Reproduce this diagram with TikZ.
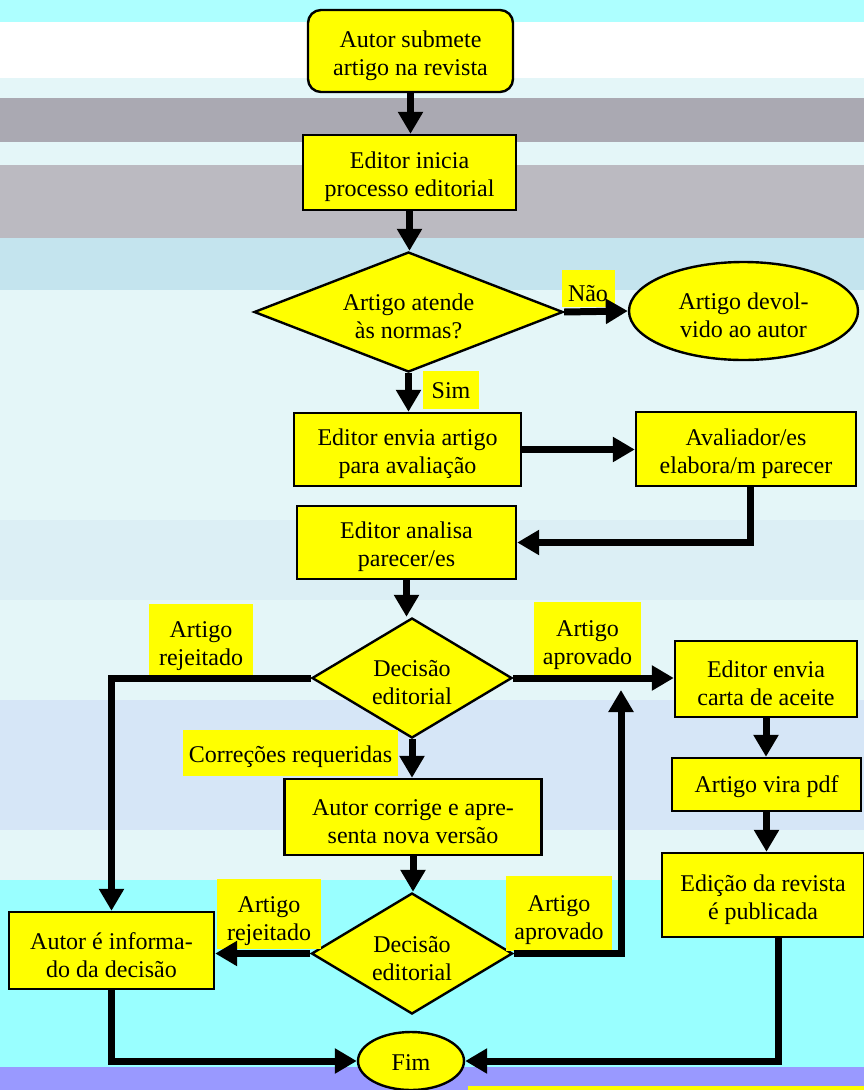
\documentclass[tikz,border=0pt]{standalone}
\usepackage{fontspec}
\setmainfont{Liberation Serif}
\usetikzlibrary{arrows.meta,shapes.geometric}
\definecolor{boxyellow}{HTML}{FFFF00}
\definecolor{bgcyan}{HTML}{99FFFF}
\definecolor{bglav}{HTML}{9999FF}
\definecolor{bgpale}{HTML}{E4F6F8}
\definecolor{bggray}{HTML}{8E8C98}
\definecolor{bgsoft}{HTML}{C4E4EE}
\tikzset{
  base/.style={draw=black, line width=2.4pt, fill=boxyellow, align=center,
    font=\fontsize{24}{28}\selectfont, inner sep=0pt, text height=54pt},
  box/.style={base, rectangle},
  rbox/.style={base, rectangle, rounded corners=13pt},
  diam/.style={base, diamond},
  oval/.style={base, ellipse},
  lab/.style={fill=boxyellow, draw=none, align=center,
    font=\fontsize{24}{28}\selectfont, inner sep=0pt, text height=58pt},
  conn/.style={line width=7pt, -{Triangle[length=22pt,width=24pt]}}
}
\begin{document}
\begin{tikzpicture}[x=1pt,y=-1pt]
\useasboundingbox (0,0) rectangle (864,1090);
% background (approximation of the photo)
\fill[bgpale] (0,0) rectangle (864,1090);
\fill[bgcyan!80!white] (0,0) rectangle (864,22);
\fill[white] (0,22) rectangle (864,78);
\fill[bggray!75!white] (0,98) rectangle (864,142);
\fill[bggray!60!white] (0,165) rectangle (864,238);
\fill[bgsoft] (0,238) rectangle (864,290);
\fill[bgsoft!60!white] (0,520) rectangle (864,600);
\fill[bgsoft!80!bglav!60!white] (0,700) rectangle (864,830);
\fill[bgcyan] (0,880) rectangle (864,1067);
\fill[bglav] (0,1067) rectangle (864,1090);
\fill[boxyellow] (468,1086) rectangle (864,1090);

% nodes
\node[rbox, minimum width=205pt, minimum height=82pt] (n1) at (410.5,51) {Autor submete\\artigo na revista};
\node[box, minimum width=213pt, minimum height=75pt] (n2) at (409.5,172.5) {Editor inicia\\processo editorial};
\node[diam, aspect=2.575, minimum width=309pt, minimum height=120pt] (d0) at (408.5,312) {Artigo atende\\às normas?};
\node[oval, minimum width=229pt, minimum height=98pt] (n4) at (743.5,311) {Artigo devol-\\vido ao autor};
\node[box, minimum width=227pt, minimum height=73pt] (n5) at (407.5,449.5) {Editor envia artigo\\para avaliação};
\node[box, minimum width=220pt, minimum height=74pt] (n6) at (746,449) {Avaliador/es\\elabora/m parecer};
\node[box, minimum width=219pt, minimum height=73pt] (n7) at (406.5,542.5) {Editor analisa\\parecer/es};
\node[diam, aspect=1.67, minimum width=200pt, minimum height=120pt] (d1) at (412,678) {Decisão\\editorial};
\node[box, minimum width=182pt, minimum height=76pt] (n9) at (766,679) {Editor envia\\carta de aceite};
\node[box, minimum width=189pt, minimum height=53pt, text height=20.5pt] (n10) at (766.5,784.5) {Artigo vira pdf};
\node[box, minimum width=202pt, minimum height=84pt] (n11) at (763,895) {Edição da revista\\é publicada};
\node[box, minimum width=257pt, minimum height=76pt] (n12) at (413,817) {Autor corrige e apre-\\senta nova versão};
\node[diam, aspect=1.66, minimum width=201pt, minimum height=121pt] (d2) at (412,953.5) {Decisão\\editorial};
\node[box, minimum width=205pt, minimum height=77pt] (n14) at (111.5,950.5) {Autor é informa-\\do da decisão};
\node[oval, minimum width=106pt, minimum height=58pt, text height=18.5pt] (fim) at (411,1061) {Fim};

% labels
\node[lab, minimum width=53pt, minimum height=37pt, text height=28pt] (lnao) at (588,288) {Não};
\node[lab, minimum width=56pt, minimum height=38pt, text height=18pt] (lsim) at (451,390) {Sim};
\node[lab, minimum width=104pt, minimum height=71pt] (lrej1) at (201,639.5) {Artigo\\rejeitado};
\node[lab, minimum width=107pt, minimum height=73pt] (lapr1) at (587.5,638.5) {Artigo\\aprovado};
\node[lab, minimum width=215pt, minimum height=46pt, text height=24pt] (lcor) at (290.5,753) {Correções requeridas};
\node[lab, minimum width=104pt, minimum height=70pt] (lrej2) at (269,914) {Artigo\\rejeitado};
\node[lab, minimum width=106pt, minimum height=75pt] (lapr2) at (559,913.5) {Artigo\\aprovado};

% connectors
\coordinate (ap) at (621,690);
\draw[conn] (n1.south) -- (n1.south |- n2.north);
\draw[conn] (n2.south) -- (n2.south |- d0.north);
\draw[conn] (d0.east) -- (n4.west);
\draw[conn] (d0.south) -- (d0.south |- n5.north);
\draw[conn] (n5.east) -- (n5.east -| n6.west);
\draw[conn] ([xshift=4pt]n6.south) |- (n7.east);
\draw[conn] (n7.south) -- (n7.south |- d1.north);
\draw[conn] (d1.east) -- (d1.east -| n9.west);
\draw[conn] (d1.west) -| (n14.north);
\draw[conn] (d1.south) -- (d1.south |- n12.north);
\draw[conn] (n12.south) -- (n12.south |- d2.north);
\draw[conn] (d2.west) -- (d2.west -| n14.east);
\draw[conn] (d2.east) -| (ap);
\draw[conn] (n9.south) -- (n9.south |- n10.north);
\draw[conn] (n10.south) -- (n10.south |- n11.north);
\draw[conn] (n14.south) |- (fim.west);
\draw[conn] ([xshift=15pt]n11.south) |- (fim.east);
\end{tikzpicture}
\end{document}
